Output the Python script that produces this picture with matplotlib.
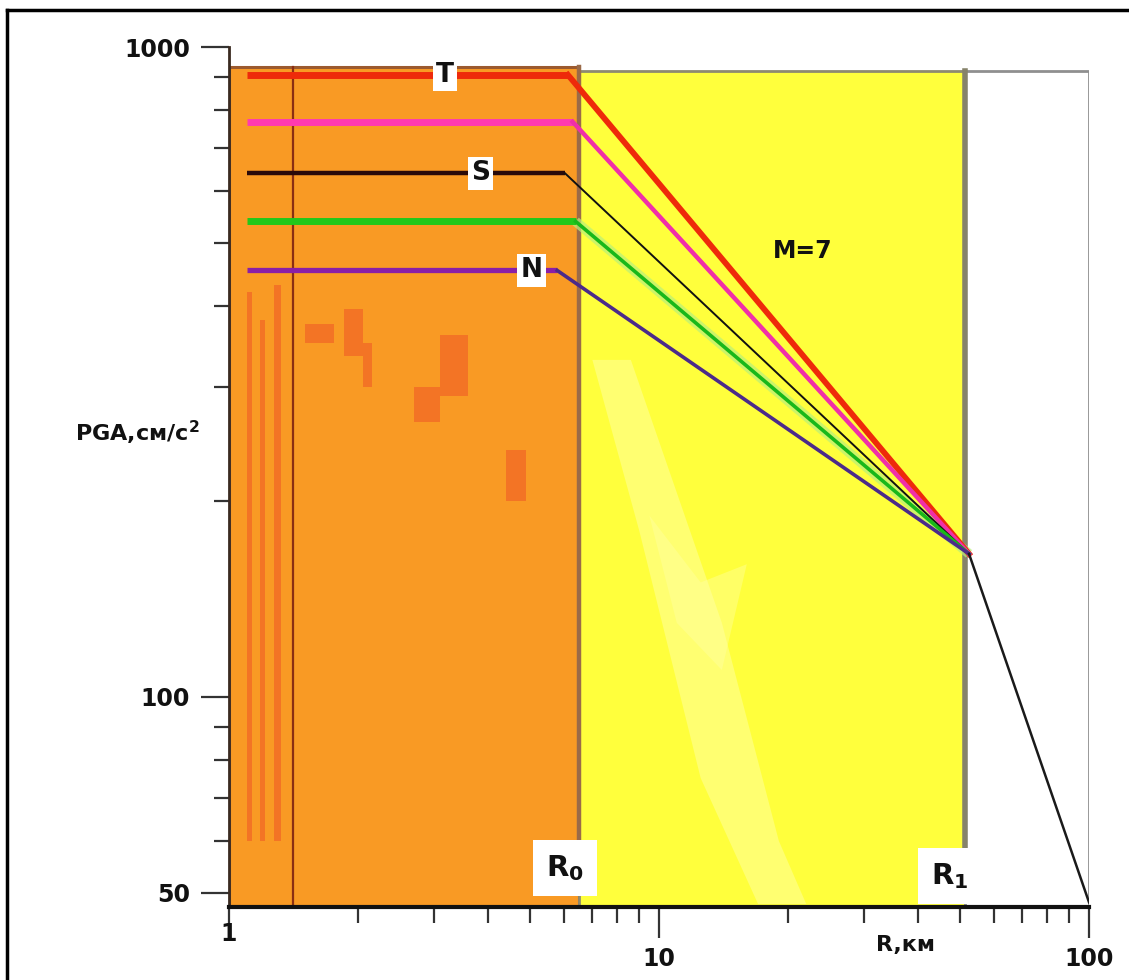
import matplotlib
matplotlib.use("Agg")
import matplotlib.pyplot as plt
from matplotlib.patches import Rectangle, Polygon
from matplotlib.lines import Line2D
from matplotlib.transforms import ScaledTranslation

# ---------------- data ----------------
R_START = 1.1          # start of plateaus, km
R0 = 6.5               # near-zone boundary, km
R1 = 51.5              # far-zone boundary, km
R_MAX = 100.0
ZONE_TOP = 930.0       # top of shaded zones (PGA)
ZONE_TOP2 = 917.0

series_names = ["T", "pink", "S", "green", "N"]
plateau_pga = [906, 767, 639, 539, 453]            # cm/s^2
kink_r = [6.14, 6.3, 6.05, 6.4, 5.8]               # end of plateau, km
conv_r = 52.6                                       # convergence distance, km
conv_pga = 166.0                                    # convergence PGA
tail_r = [52.6, 100.0]
tail_pga = [166.0, 48.3]

line_colors = ["#EE2A0A", "#FF3AB0", "#2A0A0A", "#22C81A", "#8A1FA6"]
slope_colors = ["#EE2A0A", "#F02FA8", "#111111", "#18B81A", "#4B2A8A"]

label_text = ["T", "S", "N"]
label_r = [3.18, 3.84, 5.05]
label_pga = [906, 639, 453]

xticks = [1, 10, 100]
xtick_labels = ["1", "10", "100"]
yticks = [50, 100, 1000]
ytick_labels = ["50", "100", "1000"]

# ---------------- figure ----------------
W, H = 1129, 980
fig = plt.figure(figsize=(W / 100, H / 100), dpi=100)
fig.patch.set_facecolor("white")
ax = fig.add_axes([229 / W, (H - 907) / H, (1089 - 229) / W, (907 - 47) / H])
ax.set_xscale("log")
ax.set_yscale("log")
ax.set_xlim(1, R_MAX)
ax.set_ylim(47.5, 1000)
ax.patch.set_alpha(0)

YB = 47.5
ORANGE = "#F99A24"
DORANGE = "#F36E26"
YELLOW = "#FFFF3C"
PALE = "#FFFFA6"

# zones
ax.add_patch(Rectangle((1, YB), R0 - 1, ZONE_TOP - YB, facecolor=ORANGE,
                       edgecolor="#9C5A2E", lw=2.2, zorder=1))
ax.add_patch(Rectangle((R0, YB), R1 - R0, ZONE_TOP2 - YB, facecolor=YELLOW,
                       edgecolor="#8E8A70", lw=2.0, zorder=1))
ax.add_patch(Rectangle((R1, YB), R_MAX - R1, ZONE_TOP2 - YB, facecolor="white",
                       edgecolor="#8F8F8F", lw=2.0, zorder=1))

# pale streaks in yellow zone (texture)
ax.add_patch(Polygon([(7.0, 330), (8.6, 330), (14, 130), (19, 60), (22, 48), (17, 48), (12.5, 75), (9.0, 180)],
                     closed=True, facecolor=PALE, edgecolor="none", alpha=0.5, zorder=1.2))
ax.add_patch(Polygon([(9.5, 190), (12.5, 150), (16, 160), (14, 110), (11, 130)],
                     closed=True, facecolor=PALE, edgecolor="none", alpha=0.4, zorder=1.2))

# darker orange texture in near zone
patches_r = [(1.10, 1.13), (1.18, 1.21), (1.27, 1.32), (1.85, 2.05), (2.05, 2.15),
             (3.1, 3.6), (2.7, 3.1), (4.4, 4.9), (1.5, 1.75)]
patches_p = [(60, 420), (60, 380), (60, 430), (335, 395), (300, 350),
             (290, 360), (265, 300), (200, 240), (350, 375)]
for (ra, rb), (pa, pb) in zip(patches_r, patches_p):
    ax.add_patch(Rectangle((ra, pa), rb - ra, pb - pa, facecolor=DORANGE,
                           edgecolor="none", alpha=0.85, zorder=1.5))

# thin dark vertical line in near zone
ax.plot([1.41, 1.41], [YB, ZONE_TOP], color="#8B2E12", lw=1.6, zorder=2)

# boundary lines
ax.plot([R0, R0], [59, ZONE_TOP], color="#9A6A48", lw=3.2, zorder=2.2)
ax.plot([R1, R1], [59, ZONE_TOP2], color="#86836A", lw=4.0, zorder=2.2)

# attenuation curves
plateau_w = [5.0, 5.0, 3.2, 5.0, 3.8]
slope_w = [4.2, 3.2, 1.4, 2.6, 2.6]
for name, p, kr, c1, c2, w1, w2 in zip(series_names, plateau_pga, kink_r,
                                        line_colors, slope_colors, plateau_w, slope_w):
    if name == "green":
        ax.plot([kr, conv_r], [p, conv_pga], color="#B8F07A", lw=7, alpha=0.7,
                zorder=2.8, solid_capstyle="butt")
    ax.plot([R_START, kr], [p, p], color=c1, lw=w1, zorder=3, solid_capstyle="butt")
    ax.plot([kr, conv_r], [p, conv_pga], color=c2, lw=w2, zorder=3)
ax.plot(tail_r, tail_pga, color="#1A1A1A", lw=1.8, zorder=3)

# labels
for t, r, p in zip(label_text, label_r, label_pga):
    ax.text(r, p, t, fontsize=19, fontweight="bold", ha="center", va="center",
            color="#111111", zorder=5,
            bbox=dict(boxstyle="square,pad=0.12", fc="white", ec="none"))
ax.text(21.6, 485, "M=7", fontsize=17, fontweight="bold", ha="center", va="center",
        color="#111111", zorder=5)
ax.text(6.05, 54.5, r"$\mathbf{R}_\mathbf{0}$", fontsize=21, ha="center", va="center",
        color="#111111", zorder=5,
        bbox=dict(boxstyle="square,pad=0.45", fc="white", ec="none"))
ax.text(47.5, 53.0, r"$\mathbf{R}_\mathbf{1}$", fontsize=21, ha="center", va="center",
        color="#111111", zorder=5,
        bbox=dict(boxstyle="square,pad=0.45", fc="white", ec="none"))

# axes styling
for s in ["top", "right"]:
    ax.spines[s].set_visible(False)
ax.spines["left"].set_color("#3A2A20")
ax.spines["left"].set_linewidth(2.0)
ax.spines["bottom"].set_color("#111111")
ax.spines["bottom"].set_linewidth(3.0)
ax.spines["left"].set_zorder(4)
ax.spines["bottom"].set_zorder(4)

ax.set_xticks(xticks)
ax.set_xticklabels(xtick_labels)
ax.set_xticks([v * d for d in (1, 10) for v in range(2, 10)], minor=True)
ax.set_yticks(yticks)
ax.set_yticklabels(ytick_labels)
ax.set_yticks([v * d for d in (10, 100) for v in range(2, 10) if v * d >= 50 and v * d != 100], minor=True)
ax.xaxis.set_minor_formatter(plt.NullFormatter())
ax.yaxis.set_minor_formatter(plt.NullFormatter())

ax.tick_params(axis="x", which="major", direction="out", length=22, width=1.6,
               color="#333333", pad=7, labelsize=17, labelcolor="#111111")
ax.tick_params(axis="x", which="minor", direction="out", length=11.5, width=1.6, color="#333333")
ax.tick_params(axis="y", which="major", direction="out", length=20, width=1.6,
               color="#333333", pad=8, labelsize=17, labelcolor="#111111")
ax.tick_params(axis="y", which="minor", direction="out", length=11, width=1.6, color="#333333")
for lbl in ax.get_xticklabels() + ax.get_yticklabels():
    lbl.set_fontweight("bold")

# the "1" label sits higher than the others in the reference
first = ax.xaxis.get_major_ticks()[0].label1
first.set_transform(first.get_transform() + ScaledTranslation(0, 18 / 72, fig.dpi_scale_trans))

ax.set_ylabel("PGA,см/с$^\\mathbf{2}$", fontsize=16, fontweight="bold", rotation=0,
              ha="right", va="center", color="#111111")
ax.yaxis.set_label_coords(-(229 - 200) / 860, (907 - 433) / 860)
ax.set_xlabel("R,км", fontsize=16, fontweight="bold", color="#111111")
ax.xaxis.set_label_coords((905 - 229) / 860, -(935 - 907) / 860)

# figure border (left and top)
fig.add_artist(Line2D([7 / W, 7 / W], [0, 1 - 10 / H], color="black", lw=2.5))
fig.add_artist(Line2D([7 / W, 1], [1 - 10 / H, 1 - 10 / H], color="black", lw=2.5))

fig.savefig("out.png", dpi=100)
